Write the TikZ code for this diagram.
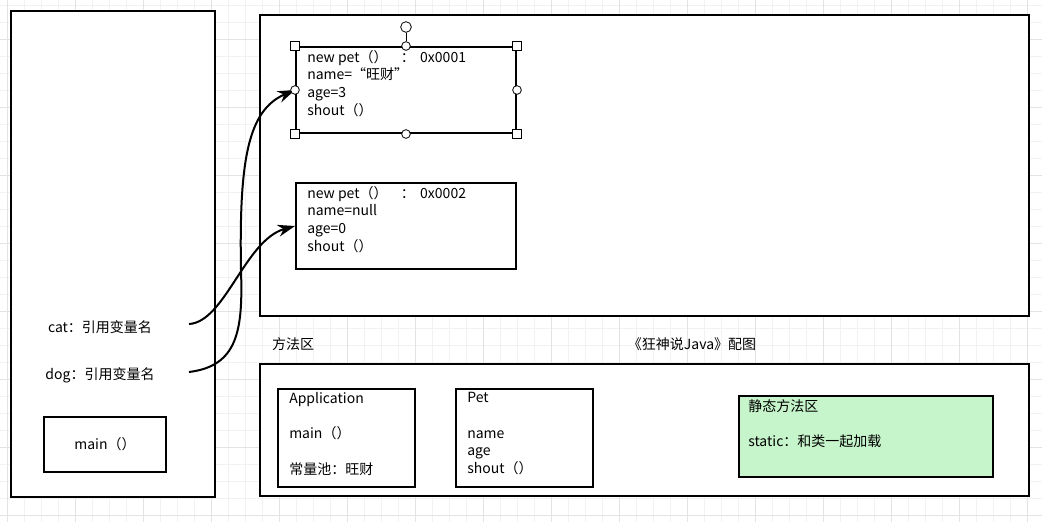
\documentclass[tikz,border=0pt]{standalone}
\usepackage{fontspec}
\setmainfont{Noto Sans CJK SC}
\usetikzlibrary{arrows.meta,positioning}
\definecolor{staticgreen}{HTML}{C6F4CB}
\definecolor{gridminor}{HTML}{F2F2F2}
\definecolor{gridmajor}{HTML}{E3E3E3}
\tikzset{
    regionbox/.style={
        rectangle,                % caja simple
        draw=black,               % borde negro
        line width=1.5pt,         % borde grueso, como en el editor
        fill=white,               % tapa la cuadrícula del fondo
        inner sep=0pt,
        font=\fontsize{10.5}{13.3}\selectfont
    },
    objbox/.style={
        regionbox,
        minimum width=165pt,      % 220 px
        minimum height=64.5pt     % 86 px
    },
    classbox/.style={
        regionbox,
        minimum width=102.75pt,   % 137 px
        minimum height=73.5pt     % 98 px
    },
    celltext/.style={
        align=left,               % texto pegado a la izquierda
        inner sep=0pt,
        font=\fontsize{10.5}{13.3}\selectfont
    },
    plaintext/.style={
        inner sep=0pt,
        font=\fontsize{10.5}{13.3}\selectfont
    },
    refarrow/.style={
        line width=1.5pt,
        -{Stealth[length=13pt,width=9pt]} % punta rellena
    },
    handlesq/.style={
        rectangle, draw=black, fill=white, line width=0.6pt,
        minimum size=6.5pt, inner sep=0pt
    },
    handlecirc/.style={
        circle, draw=black, fill=white, line width=0.6pt,
        minimum size=6.5pt, inner sep=0pt
    },
    gridline/.style={draw=gridminor, line width=0.6pt},
    gridbold/.style={draw=gridmajor, line width=0.6pt}
}

\begin{document}
\begin{tikzpicture}[x=0.75pt,y=-0.75pt]
    \useasboundingbox (0,0) rectangle (1042,522);

    % cuadrícula del lienzo
    \foreach \gx in {7,24,...,1041} \draw[gridline] (\gx,0) -- (\gx,522);
    \foreach \gy in {5,22,...,522} \draw[gridline] (0,\gy) -- (1042,\gy);
    \foreach \gx in {7,75,...,1041} \draw[gridbold] (\gx,0) -- (\gx,522);
    \foreach \gy in {39,107,...,522} \draw[gridbold] (0,\gy) -- (1042,\gy);

    % pila
    \node[regionbox, minimum width=153pt, minimum height=364.5pt] (stack) at (113,254) {};
    \node[plaintext] (cat) at (100,327) {cat：引用变量名};
    \node[plaintext] (dog) at (100,375) {dog：引用变量名};
    \node[regionbox, minimum width=91.5pt, minimum height=41.25pt] (mainbox) at (105,444.5) {main（）};
    \coordinate (catref) at (189,324);
    \coordinate (dogref) at (189,372);

    % montón
    \node[regionbox, minimum width=576.75pt, minimum height=225.75pt] (heap) at (644.5,165.5) {};
    \node[objbox] (obj1) at (406,90) {};
    \node[celltext, below right=3pt and 9pt of obj1.north west] (obj1txt) {
        new pet（）\hspace{10pt}：\hspace{4pt}0x0001\\
        name=“旺财”\\
        age=3\\
        shout（）
    };
    \node[objbox] (obj2) at (406,226) {};
    \node[celltext, below right=3pt and 9pt of obj2.north west] (obj2txt) {
        new pet（）\hspace{10pt}：\hspace{4pt}0x0002\\
        name=null\\
        age=0\\
        shout（）
    };

    % área de métodos
    \node[plaintext] (methodlbl) at (293,344) {方法区};
    \node[plaintext] (caption) at (692,344) {《狂神说Java》配图};
    \node[regionbox, minimum width=576.75pt, minimum height=99pt] (method) at (644.5,430) {};
    \node[classbox] (appbox) at (346.5,438) {};
    \node[celltext, below right=3pt and 9pt of appbox.north west] (apptxt) {
        Application\\[13.3pt]
        main（）\\[13.3pt]
        常量池：旺财
    };
    \node[classbox] (petbox) at (524.5,438) {};
    \node[celltext, below right=3pt and 9pt of petbox.north west] (pettxt) {
        Pet\\[13.3pt]
        name\\
        age\\
        shout（）
    };
    \node[classbox, fill=staticgreen, minimum width=190.5pt, minimum height=60.75pt] (staticbox) at (866,436.5) {};
    \node[celltext, below right=3pt and 7.5pt of staticbox.north west] (statictxt) {
        静态方法区\\[13.3pt]
        static：和类一起加载
    };

    % referencias
    \draw[refarrow] (catref) .. controls (225,322) and (245,240) .. (obj2.west);
    \draw[refarrow] (dogref) .. controls (238,366) and (243,330) .. (241,270)
        .. controls (239,160) and (248,110) .. (obj1.west);

    % tiradores de selección
    \foreach \a [count=\i] in {north west,north east,south west,south east}
        \node[handlesq] (hs\i) at (obj1.\a) {};
    \foreach \a [count=\i] in {north,south,west,east}
        \node[handlecirc] (hc\i) at (obj1.\a) {};
    \node[handlecirc, minimum size=8pt] (rot) at (406,27) {};
    \draw[line width=0.6pt] (hc1) -- (rot);
\end{tikzpicture}
\end{document}
